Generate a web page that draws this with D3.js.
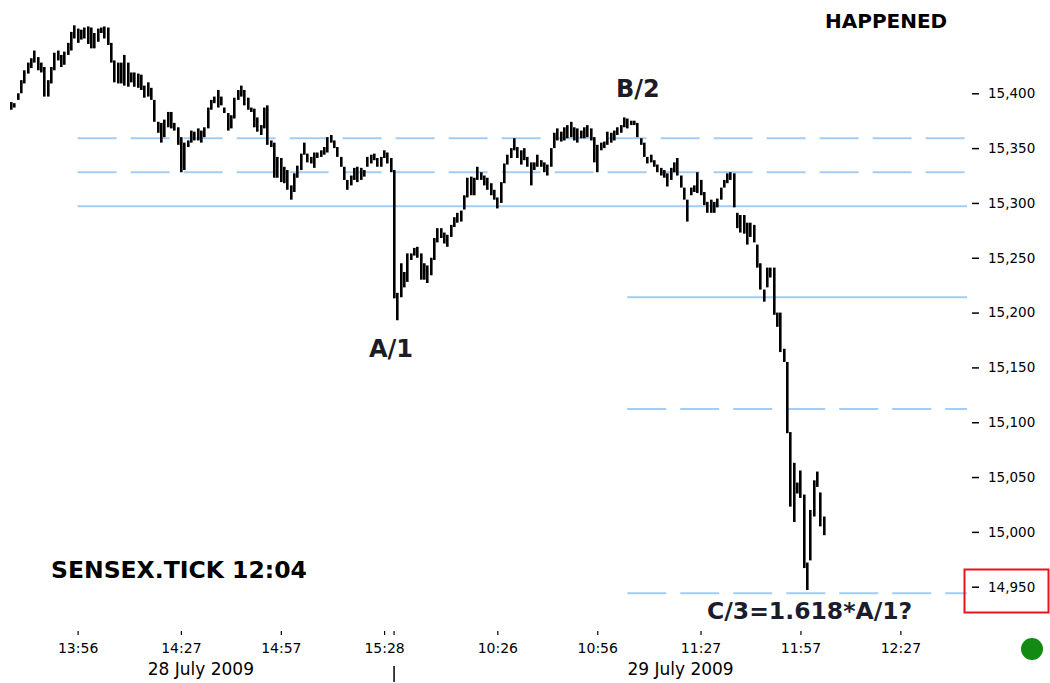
<!DOCTYPE html>
<html>
<head>
<meta charset="utf-8">
<script src="https://cdnjs.cloudflare.com/ajax/libs/d3/7.8.5/d3.min.js"></script>
<style>
  html, body { margin: 0; padding: 0; background: #fff; }
  svg { display: block; font-family: Verdana, 'DejaVu Sans', sans-serif; }
</style>
</head>
<body>
<div class="chart-container"></div>
<script>
/* global d3 */
(function() {
    'use strict';

    // one bar per minute, 28 July from 13:36, 29 July from 09:55
    var dayOneStart = '13:36';
    var dayTwoStart = '09:55';
    var sessionEnd = '12:47';

    var dayOneHigh = [15392,15391,15400,15412,15421,15428,15432,15439,15433,15428,
        15424,15412,15424,15437,15439,15435,15438,15446,15456,15462,
        15459,15458,15460,15461,15460,15455,15459,15460,15461,15460,
        15446,15430,15428,15428,15435,15428,15419,15419,15418,15417,
        15407,15410,15405,15394,15374,15373,15376,15383,15383,15373,
        15369,15360,15355,15357,15366,15365,15368,15366,15369,15387,
        15394,15397,15403,15397,15387,15382,15380,15396,15403,15407,
        15403,15396,15387,15386,15378,15371,15387,15389,15357,15355,
        15342,15341,15333,15330,15316,15327,15334,15345,15355,15345,
        15342,15346,15346,15348,15351,15360,15362,15357,15351,15342,
        15333,15321,15325,15332,15333,15332,15330,15342,15344,15345,
        15341,15342,15348,15346,15341];
    var dayOneLow = [15385,15387,15394,15400,15409,15418,15423,15428,15421,15419,
        15397,15397,15409,15421,15430,15424,15426,15435,15439,15450,
        15446,15449,15450,15445,15441,15441,15447,15455,15450,15444,
        15428,15410,15409,15409,15407,15406,15410,15406,15405,15403,
        15396,15397,15394,15374,15364,15355,15360,15369,15368,15366,
        15353,15328,15330,15351,15355,15357,15357,15355,15360,15368,
        15385,15391,15387,15389,15382,15366,15368,15377,15394,15397,
        15389,15385,15383,15369,15365,15362,15368,15353,15351,15323,
        15323,15319,15318,15312,15303,15310,15323,15330,15344,15337,
        15336,15332,15341,15342,15344,15346,15355,15350,15342,15333,
        15321,15312,15316,15321,15319,15321,15324,15333,15336,15339,
        15333,15333,15341,15336,15328];

    var dayTwoHigh = [15330,15218,15245,15237,15254,15254,15259,15260,15254,15245,
        15243,15250,15268,15277,15277,15273,15271,15280,15287,15291,
        15293,15307,15323,15324,15323,15333,15328,15325,15323,15318,
        15312,15305,15319,15336,15344,15350,15359,15351,15348,15350,
        15342,15337,15337,15344,15339,15337,15335,15350,15364,15368,
        15365,15369,15371,15374,15369,15368,15366,15369,15371,15368,
        15360,15353,15355,15356,15365,15364,15366,15369,15371,15378,
        15377,15375,15375,15373,15359,15355,15342,15344,15339,15335,
        15332,15330,15327,15332,15337,15341,15325,15314,15303,15314,
        15316,15328,15321,15310,15301,15303,15301,15304,15314,15321,
        15327,15328,15327,15291,15289,15289,15282,15282,15280,15262,
        15245,15221,15241,15241,15241,15200,15200,15167,15155,15091,
        15063,15045,15056,15034,14972,15020,15047,15055,15036,15014];
    var dayTwoLow = [15213,15193,15214,15223,15228,15248,15252,15250,15230,15230,
        15227,15234,15248,15264,15268,15263,15260,15269,15278,15282,
        15283,15294,15305,15307,15307,15321,15321,15316,15312,15307,
        15303,15295,15300,15318,15335,15341,15348,15341,15335,15339,
        15333,15316,15330,15333,15333,15328,15325,15333,15350,15357,
        15356,15357,15359,15360,15357,15355,15359,15359,15360,15357,
        15337,15328,15348,15350,15353,15355,15357,15362,15364,15369,
        15368,15371,15371,15360,15353,15342,15336,15337,15333,15328,
        15325,15323,15315,15321,15328,15325,15314,15303,15283,15307,
        15310,15309,15307,15298,15291,15291,15291,15296,15303,15314,
        15318,15321,15296,15277,15273,15272,15262,15269,15264,15241,
        15221,15210,15223,15232,15198,15187,15164,15155,15090,15023,
        15009,15035,15031,14967,14947,14974,15014,15041,15005,14997];

    var priceTicks = [14950, 15000, 15050, 15100, 15150, 15200, 15250, 15300, 15350, 15400];

    var tickDays = [1, 1, 1, 1, 2, 2, 2, 2, 2];
    var tickTimes = ['13:56', '14:27', '14:57', '15:28', '10:26', '10:56', '11:27', '11:57', '12:27'];
    var dateLabels = ['28 July 2009', '29 July 2009'];

    // projection lines
    var levelPrices = [15359, 15328, 15297, 15214, 15112, 14944];
    var levelDashed = [true, true, false, false, true, true];
    var levelDays = [1, 1, 1, 2, 2, 2];
    var levelStart = ['13:56', '13:56', '13:56', '11:05', '11:05', '11:05'];

    function minutes(s) {
        var p = s.split(':');
        return +p[0] * 60 + +p[1];
    }

    function slot(day, s) {
        if (day === 1) { return minutes(s) - minutes(dayOneStart); }
        return dayOneHigh.length + minutes(s) - minutes(dayTwoStart);
    }

    var bars = dayOneHigh.map(function(h, i) {
        return { i: i, hi: h, lo: dayOneLow[i] };
    }).concat(dayTwoHigh.map(function(h, i) {
        return { i: dayOneHigh.length + i, hi: h, lo: dayTwoLow[i] };
    }));

    var width = 1050, height = 683;

    var svg = d3.select('.chart-container')
        .append('svg')
        .attr('width', width)
        .attr('height', height);

    var x = d3.scaleLinear()
        .domain([0, slot(2, sessionEnd)])
        .range([11, 967]);

    var y = d3.scaleLinear()
        .domain([14950, 15400])
        .range([586.7, 93.3]);

    // levels
    svg.append('g').selectAll('line')
        .data(levelPrices)
        .enter()
        .append('line')
        .attr('x1', function(d, i) { return x(slot(levelDays[i], levelStart[i])); })
        .attr('x2', x.range()[1])
        .attr('y1', function(d) { return y(d); })
        .attr('y2', function(d) { return y(d); })
        .attr('stroke', '#a3cdf6')
        .attr('stroke-width', 2)
        .attr('stroke-dasharray', function(d, i) { return levelDashed[i] ? '39,14' : null; });

    // price bars
    svg.append('g').selectAll('rect')
        .data(bars)
        .enter()
        .append('rect')
        .attr('x', function(d) { return Math.round(x(d.i)) - 1; })
        .attr('width', 2.6)
        .attr('y', function(d) { return y(d.hi); })
        .attr('height', function(d) { return Math.max(3, y(d.lo) - y(d.hi)); })
        .attr('fill', '#000');

    // price axis
    var yAxis = svg.append('g')
        .attr('transform', 'translate(972,0)')
        .call(d3.axisRight(y)
            .tickValues(priceTicks)
            .tickSize(7)
            .tickPadding(9)
            .tickFormat(d3.format(',')));
    yAxis.select('.domain').remove();
    yAxis.selectAll('line').attr('stroke', '#000').attr('stroke-width', 1.5);
    yAxis.selectAll('text')
        .attr('fill', '#000')
        .style('font-size', '13.5px')
        .style('font-family', 'Verdana, "DejaVu Sans", sans-serif');

    // time axis
    var timeSlots = tickTimes.map(function(t, i) { return slot(tickDays[i], t); });
    var xAxis = svg.append('g')
        .attr('transform', 'translate(0,631)')
        .call(d3.axisBottom(x)
            .tickValues(timeSlots)
            .tickSize(4)
            .tickPadding(8)
            .tickFormat(function(d, i) { return tickTimes[i]; }));
    xAxis.select('.domain').remove();
    xAxis.selectAll('line').attr('stroke', '#000').attr('stroke-width', 1.2);
    xAxis.selectAll('text')
        .attr('fill', '#000')
        .style('font-size', '14px')
        .style('font-family', 'Verdana, "DejaVu Sans", sans-serif');

    // day break
    var breakX = x(slot(2, dayTwoStart));
    svg.append('line')
        .attr('x1', breakX).attr('x2', breakX)
        .attr('y1', 631).attr('y2', 635)
        .attr('stroke', '#000').attr('stroke-width', 1.2);
    svg.append('line')
        .attr('x1', breakX).attr('x2', breakX)
        .attr('y1', 666).attr('y2', 682)
        .attr('stroke', '#000').attr('stroke-width', 1.5);

    var dayCentres = [
        (0 + dayOneHigh.length - 1) / 2,
        (dayOneHigh.length + x.domain()[1]) / 2
    ];
    svg.append('g').selectAll('text')
        .data(dateLabels)
        .enter()
        .append('text')
        .attr('x', function(d, i) { return x(dayCentres[i]); })
        .attr('y', 675)
        .attr('text-anchor', 'middle')
        .style('font-size', '17px')
        .attr('fill', '#000')
        .text(function(d) { return d; });

    // annotations
    function note(txt, tx, ty, size, color) {
        svg.append('text')
            .attr('x', tx)
            .attr('y', ty)
            .attr('font-weight', 'bold')
            .style('font-size', size + 'px')
            .attr('fill', color)
            .text(txt);
    }
    note('HAPPENED', 825, 28, 20, '#000');
    note('B/2', 616, 97, 24, '#1c1c24');
    note('A/1', 369, 357, 24, '#1c1c24');
    note('SENSEX.TICK 12:04', 51, 578, 23.5, '#000');
    note('C/3=1.618*A/1?', 707, 619, 23.5, '#1c1c2c');

    // last price box and status light
    svg.append('rect')
        .attr('x', 964.5).attr('y', 569.5)
        .attr('width', 84).attr('height', 43)
        .attr('fill', 'none')
        .attr('stroke', '#e8141b')
        .attr('stroke-width', 2);

    svg.append('circle')
        .attr('cx', 1032).attr('cy', 649).attr('r', 11)
        .attr('fill', '#138a13');
})();
</script>
</body>
</html>
